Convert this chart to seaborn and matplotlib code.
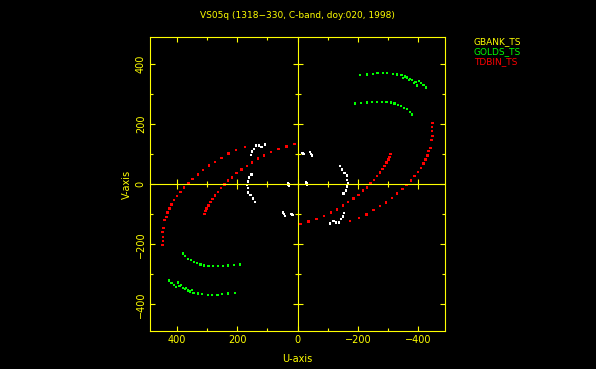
import numpy as np
import pandas as pd
import matplotlib
matplotlib.use('Agg')
import matplotlib.pyplot as plt
import seaborn as sns

# UV points (one half; the other half is the conjugate -u,-v)
tdbin_outer_u = [446, 445, 445, 447, 444, 440, 434, 430, 423, 417, 408, 398, 387, 375,
                 361, 347, 330, 313, 293, 273, 251, 228, 203, 174]
tdbin_outer_v = [-203, -190, -176, -159, -146, -120, -109, -94, -81, -68, -54, -40, -26, -11,
                 4, 17, 32, 47, 61, 73, 87, 101, 112, 122]
tdbin_inner_u = [308, 304, 301, 294, 288, 281, 272, 263, 253, 241, 230, 217, 202, 185,
                 168, 150, 130, 110, 87, 63, 37, 10]
tdbin_inner_v = [-100, -90, -81, -71, -60, -49, -38, -26, -13, -1, 11, 22, 36, 48,
                 59, 71, 84, 94, 106, 116, 124, 132]

golds_upper_u = [379, 372, 363, 353, 343, 332, 321, 309, 295, 279, 263, 246, 229, 210, 190]
golds_upper_v = [-231, -240, -248, -253, -259, -263, -267, -270, -272, -273, -273, -272, -271, -269, -267]
golds_lower_u = [425, 417, 409, 402, 395, 391, 386, 379, 372, 368, 363, 355, 350, 344, 330,
                 315, 297, 282, 265, 249, 230, 206]
golds_lower_v = [-320, -328, -335, -341, -327, -339, -336, -345, -349, -345, -353, -357, -352, -361, -363,
                 -366, -368, -368, -368, -366, -364, -362]

other_u = [108, 119, 128, 137, 144, 150, 153, 152, 161, 164, 167, 164, 163, 155, 148, 141,
           31, 30, 28, 48, 45, 41, 20, 17]
other_v = [131, 123, 128, 128, 117, 108, 97, 32, 21, 8, -3, -14, -28, -37, -48, -59,
           3, -1, -6, -94, -99, -106, -99, -103]

baselines = ['GBANK_TS', 'GOLDS_TS', 'TDBIN_TS']
colors = {'GBANK_TS': '#ffff00', 'GOLDS_TS': '#00ff00', 'TDBIN_TS': '#ff0000', 'other': '#ffffff'}
title = 'VS05q (1318\u2212330, C-band, doy:020, 1998)'
ticks = [400, 200, 0, -200, -400]
minor_ticks = [300, 100, -100, -300]

rows = []
for name, us, vs in [('TDBIN_TS', tdbin_outer_u, tdbin_outer_v),
                     ('TDBIN_TS', tdbin_inner_u, tdbin_inner_v),
                     ('GOLDS_TS', golds_upper_u, golds_upper_v),
                     ('GOLDS_TS', golds_lower_u, golds_lower_v),
                     ('other', other_u, other_v)]:
    for u, v in zip(us, vs):
        rows.append((name, u, v))
        rows.append((name, -u, -v))
df = pd.DataFrame(rows, columns=['baseline', 'u', 'v'])

sns.set_style('dark', {'axes.facecolor': 'black', 'figure.facecolor': 'black'})
plt.rcParams['font.family'] = ['DejaVu Sans']
yellow = '#ffff00'

fig = plt.figure(figsize=(5.96, 3.69), dpi=100, facecolor='black')
ax = fig.add_axes([150 / 596, 1 - 331 / 369, 295 / 596, 294 / 369])
ax.set_facecolor('black')

sns.scatterplot(data=df, x='u', y='v', hue='baseline', palette=colors, marker='s',
                s=3, linewidth=0, legend=False, ax=ax, zorder=3)

lim = 488
ax.set_xlim(lim, -lim)
ax.set_ylim(-lim, lim)
ax.grid(False)

for sp in ax.spines.values():
    sp.set_color(yellow)
    sp.set_linewidth(0.8)
    sp.set_visible(True)

ax.set_xticks(ticks)
ax.set_yticks(ticks)
ax.set_xticks(minor_ticks, minor=True)
ax.set_yticks(minor_ticks, minor=True)
ax.tick_params(which='both', direction='in', bottom=True, left=True, top=True, right=True,
               colors=yellow, labelcolor=yellow, labelsize=7, width=0.8)
ax.tick_params(which='major', length=3.6, pad=3)
ax.tick_params(which='minor', length=2.3)
for lab in ax.get_yticklabels():
    lab.set_rotation(90)
    lab.set_va('center')

ax.set_xlabel('U-axis', color=yellow, fontsize=7, labelpad=6)
ax.set_ylabel('V-axis', color=yellow, fontsize=7, labelpad=3)

# zero axes with ticks crossing them
ax0 = fig.add_axes(ax.get_position(), sharex=ax, sharey=ax)
ax0.set_facecolor('none')
ax0.patch.set_alpha(0)
ax0.grid(False)
ax0.spines['left'].set_position(('data', 0))
ax0.spines['bottom'].set_position(('data', 0))
ax0.spines['top'].set_visible(False)
ax0.spines['right'].set_visible(False)
for s in ['left', 'bottom']:
    ax0.spines[s].set_visible(True)
    ax0.spines[s].set_color(yellow)
    ax0.spines[s].set_linewidth(0.8)
ax0.tick_params(which='both', direction='inout', bottom=True, left=True, top=False, right=False,
                colors=yellow, width=0.8, labelbottom=False, labelleft=False)
ax0.tick_params(which='major', length=6.5)
ax0.tick_params(which='minor', length=4.3)
ax0.set_xlabel('')
ax0.set_ylabel('')

fig.text(297 / 596, 1 - 16 / 369, title, color=yellow, fontsize=6.5, ha='center', va='center')
for i, name in enumerate(baselines):
    fig.text(474 / 596, 1 - (42 + 10 * i) / 369, name, color=colors[name], fontsize=6.5,
             ha='left', va='center')

fig.savefig('out.png', dpi=100, facecolor='black')
